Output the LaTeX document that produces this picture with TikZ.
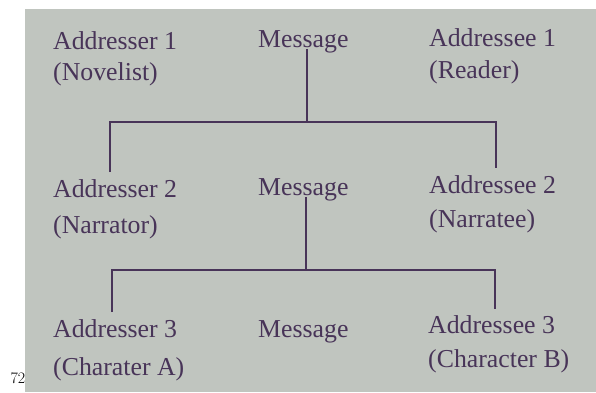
\documentclass[tikz,border=0pt]{standalone}
\usepackage{fontspec}
\newfontfamily\bookfont{Liberation Serif}
\definecolor{paper}{RGB}{192,197,191}
\definecolor{ink}{RGB}{72,52,88}
\begin{document}
\begin{tikzpicture}[x=1pt,y=-1pt,
  lbl/.style={anchor=base west,inner sep=0pt,text=ink,font=\bookfont\fontsize{25.8}{30}\selectfont},
  link/.style={draw=ink,line width=2.3pt,line cap=butt,line join=miter}]
\useasboundingbox (0,0) rectangle (596,392);
\fill[paper] (25,9) rectangle (596,392);
\node[anchor=base east,inner sep=0pt,font=\fontsize{16}{18}\selectfont] (pg) at (25.5,383) {72};
% row 1
\node[lbl] (a1) at (53,49) {Addresser 1};
\node[lbl] (a1b) at (53,80) {(Novelist)};
\node[lbl] (m1) at (258,47) {Message};
\node[lbl] (e1) at (429,46) {Addressee 1};
\node[lbl] (e1b) at (429,78) {(Reader)};
% row 2
\node[lbl] (a2) at (53,197) {Addresser 2};
\node[lbl] (a2b) at (53,233) {(Narrator)};
\node[lbl] (m2) at (258,195) {Message};
\node[lbl] (e2) at (429,193) {Addressee 2};
\node[lbl] (e2b) at (429,227) {(Narratee)};
% row 3
\node[lbl] (a3) at (53,337) {Addresser 3};
\node[lbl] (a3b) at (53,375) {(Charater A)};
\node[lbl] (m3) at (258,337) {Message};
\node[lbl] (e3) at (428,333) {Addressee 3};
\node[lbl] (e3b) at (428,367) {(Character B)};
% junctions
\coordinate (j1) at (307,122);
\coordinate (l1) at (110,172);
\coordinate (r1) at (496,168);
\coordinate (j2) at (306,270);
\coordinate (l2) at (112,312);
\coordinate (r2) at (495,309);
\draw[link] (m1.south -| j1) ++(0,-4) -- (j1);
\draw[link] (l1) -- (l1 |- j1) -- (r1 |- j1) -- (r1);
\draw[link] (m2.south -| j2) ++(0,-4) -- (j2);
\draw[link] (l2) -- (l2 |- j2) -- (r2 |- j2) -- (r2);
\end{tikzpicture}
\end{document}
